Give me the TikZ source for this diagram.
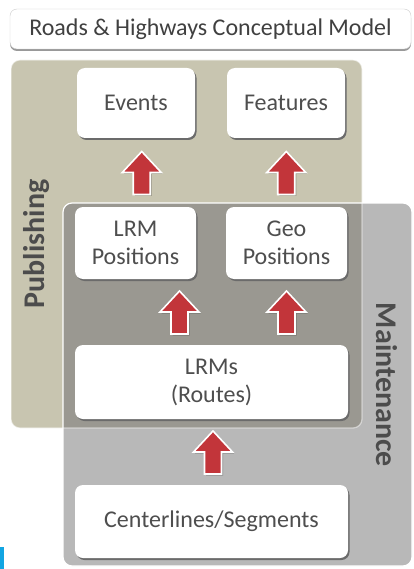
\documentclass[tikz,border=0pt]{standalone}
\usepackage{fontspec}
\setmainfont{Carlito}
\usetikzlibrary{shadows,calc}
\definecolor{pubtan}{HTML}{C8C5B0}
\definecolor{maingray}{HTML}{B8B8B8}
\definecolor{overlapgray}{HTML}{9A9891}
\definecolor{txtgray}{HTML}{4E4E4E}
\definecolor{arrowred}{HTML}{C2353A}
\definecolor{bluetab}{HTML}{12A5E2}

\tikzset{
  boxshadow/.style={drop shadow={shadow xshift=1.5pt, shadow yshift=-2pt, fill=black!58, opacity=1}},
  itembox/.style={fill=white, rounded corners=8pt, inner sep=0pt, align=center,
    text=txtgray, font=\fontsize{24}{28}\selectfont, boxshadow},
  titlebox/.style={fill=white, draw=black!20, rounded corners=7pt, inner sep=0pt,
    text=black!75, font=\fontsize{24}{28}\selectfont,
    drop shadow={shadow xshift=0pt, shadow yshift=-2pt, fill=black!40, opacity=1}},
  panellabel/.style={text=black!70, font=\bfseries\fontsize{30}{34}\selectfont},
  pics/uparrow/.style={code={
    \fill[black, opacity=0.22] (-7,23.5) -- (-7,1.5) -- (-18,1.5) -- (1.5,-19.5) -- (21,1.5) -- (10,1.5) -- (10,23.5) -- cycle;
    \draw[draw=white, line width=1.6pt, fill=arrowred]
      (-8.5,22) -- (-8.5,0) -- (-19.5,0) -- (0,-21) -- (19.5,0) -- (8.5,0) -- (8.5,22) -- cycle;
  }}
}

\begin{document}
\begin{tikzpicture}[x=1pt, y=-1pt]
  \useasboundingbox (0,0) rectangle (414,569);

  % title banner
  \node[titlebox, minimum width=401pt, minimum height=40pt] (title) at (210.5,29)
    {Roads \& Highways Conceptual Model};

  % the two overlapping panels
  \def\pubpath{(11,60) rectangle (362,428)}
  \def\mainpath{(63,203) rectangle (412,566)}
  \fill[pubtan, rounded corners=9pt] \pubpath;
  \fill[maingray, rounded corners=9pt] \mainpath;
  \begin{scope}
    \clip[rounded corners=9pt] \pubpath;
    \fill[overlapgray, rounded corners=9pt] \mainpath;
  \end{scope}
  \draw[white, line width=1.2pt, rounded corners=9pt] \mainpath;
  \draw[white, opacity=0.5, line width=1.2pt, rounded corners=9pt] \pubpath;

  % panel labels
  \node[panellabel, rotate=90] (publishing) at (37,244) {Publishing};
  \node[panellabel, rotate=-90] (maintenance) at (387,385) {Maintenance};

  % content boxes
  \node[itembox, minimum width=118pt, minimum height=70pt] (events) at (136,103) {Events};
  \node[itembox, minimum width=118pt, minimum height=70pt] (features) at (286,103) {Features};
  \node[itembox, minimum width=121pt, minimum height=72pt] (lrmpos) at (135.5,243) {LRM\\Positions};
  \node[itembox, minimum width=121pt, minimum height=72pt] (geopos) at (286.5,243) {Geo\\Positions};
  \node[itembox, minimum width=273pt, minimum height=74pt] (lrms) at (211.5,382) {LRMs\\(Routes)};
  \node[itembox, minimum width=273pt, minimum height=73pt] (center) at (211.5,521.5) {Centerlines/Segments};

  % block arrows between levels
  \pic at ($(events.south)!0.5!(lrmpos.north)+(6,0)$) {uparrow};
  \pic at ($(features.south)!0.5!(geopos.north)$) {uparrow};
  \pic at ($(lrmpos.south)!0.5!(lrms.north)+(6,0)$) {uparrow};
  \pic at ($(geopos.south)!0.5!(lrms.north -| geopos.south)$) {uparrow};
  \pic at ($(lrms.south)!0.5!(center.north)+(1.5,0)$) {uparrow};

  % small blue tab at the lower left edge
  \fill[bluetab] (0,547) rectangle (4,569);
\end{tikzpicture}
\end{document}
